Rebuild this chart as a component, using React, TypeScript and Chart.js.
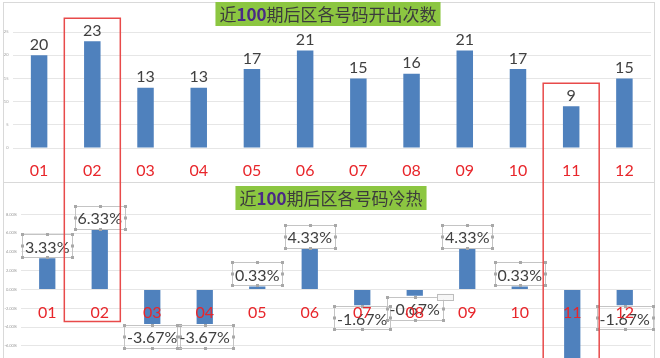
import React, { useEffect, useRef } from "react";
import { Chart, registerables } from "chart.js";
Chart.register(...registerables);

const categories = ["01", "02", "03", "04", "05", "06", "07", "08", "09", "10", "11", "12"];
const drawCounts = [20, 23, 13, 13, 17, 21, 15, 16, 21, 17, 9, 15];
const heatValues = [3.33, 6.33, -3.67, -3.67, 0.33, 4.33, -1.67, -0.67, 4.33, 0.33, -7.67, -1.67];
const countTickValues = [0, 5, 10, 15, 20, 25];
const heatTickValues = [-8, -6, -4, -2, 0, 2, 4, 6, 8];
const highlightedCategories = ["02", "11"];
const titleTop = ["近", "100", "期后区各号码开出次数"];
const titleBottom = ["近", "100", "期后区各号码冷热"];

const BAR = "#4f81bd";
const RED = "#e8262b";
const BOX_RED = "#e84a4a";
const LABEL = "#404040";
const GREEN = "#8cc641";
const PURPLE = "#4a2a85";
const GRID = "#e6e6e6";
const NUM_FONT = "Lato, 'Open Sans', sans-serif";
const CJK_FONT = "'Noto Sans CJK SC', sans-serif";

const W = 660;
const TOP_H = 182;
const BOT_H = 200;

function drawTitle(ctx: CanvasRenderingContext2D, parts: string[], cx: number, top: number, h: number) {
  ctx.save();
  const fonts = [`17px ${CJK_FONT}`, `bold 17px ${CJK_FONT}`, `17px ${CJK_FONT}`];
  const widths = parts.map((p, i) => {
    ctx.font = fonts[i];
    return ctx.measureText(p).width;
  });
  const total = widths.reduce((a, b) => a + b, 0);
  const padX = 4;
  const x0 = cx - total / 2;
  ctx.fillStyle = GREEN;
  ctx.fillRect(x0 - padX, top, total + 2 * padX, h);
  let x = x0;
  ctx.textBaseline = "middle";
  ctx.textAlign = "left";
  parts.forEach((p, i) => {
    ctx.font = fonts[i];
    ctx.fillStyle = i === 1 ? PURPLE : "#3c3c3c";
    ctx.fillText(p, x, top + h / 2 + 1);
    x += widths[i];
  });
  ctx.restore();
}

function drawCatLabels(chart: any, xScaleChart: any) {
  const ctx = chart.ctx;
  const y0 = chart.scales.y.getPixelForValue(0);
  ctx.save();
  ctx.font = `16px ${NUM_FONT}`;
  ctx.fillStyle = RED;
  ctx.textAlign = "center";
  ctx.textBaseline = "alphabetic";
  categories.forEach((c, i) => {
    const x = chart.scales.x.getPixelForValue(i);
    ctx.fillText(c, x, y0 + 28);
  });
  ctx.restore();
}

function handles(ctx: CanvasRenderingContext2D, x: number, y: number, w: number, h: number) {
  const pts = [
    [x, y], [x + w / 2, y], [x + w, y],
    [x, y + h / 2], [x + w, y + h / 2],
    [x, y + h], [x + w / 2, y + h], [x + w, y + h],
  ];
  ctx.fillStyle = "#a8a8a8";
  pts.forEach(([px, py]) => ctx.fillRect(px - 1.5, py - 1.5, 3, 3));
}

export default function App() {
  const topRef = useRef<HTMLCanvasElement>(null);
  const botRef = useRef<HTMLCanvasElement>(null);

  useEffect(() => {
    document.body.style.margin = "0";
    const topCanvas = topRef.current!;
    const botCanvas = botRef.current!;

    const topPlugin = {
      id: "topDeco",
      beforeDraw(chart: any) {
        const ctx = chart.ctx;
        ctx.save();
        ctx.fillStyle = "#fff";
        ctx.fillRect(0, 0, chart.width, chart.height);
        ctx.strokeStyle = "#d9d9d9";
        ctx.lineWidth = 1;
        ctx.strokeRect(3.5, 2.5, 651, chart.height);
        ctx.restore();
      },
      afterDatasetsDraw(chart: any) {
        const ctx = chart.ctx;
        const meta = chart.getDatasetMeta(0);
        ctx.save();
        ctx.font = `16px ${NUM_FONT}`;
        ctx.fillStyle = LABEL;
        ctx.textAlign = "center";
        ctx.textBaseline = "alphabetic";
        meta.data.forEach((bar: any, i: number) => {
          ctx.fillText(String(drawCounts[i]), bar.x, bar.y - 5.5);
        });
        ctx.restore();
        drawCatLabels(chart, chart);
        drawTitle(ctx, titleTop, 328, 2, 24);
        // highlight boxes
        ctx.save();
        ctx.strokeStyle = BOX_RED;
        ctx.lineWidth = 1.5;
        highlightedCategories.forEach((c) => {
          const i = categories.indexOf(c);
          const x = chart.scales.x.getPixelForValue(i);
          const yTop = chart.scales.y.getPixelForValue(drawCounts[i]) - 23;
          ctx.beginPath();
          ctx.moveTo(x - 28, chart.height + 5);
          ctx.lineTo(x - 28, yTop);
          ctx.lineTo(x + 28, yTop);
          ctx.lineTo(x + 28, chart.height + 5);
          ctx.stroke();
        });
        ctx.restore();
      },
    };

    const topChart = new Chart(topCanvas, {
      type: "bar",
      data: {
        labels: categories,
        datasets: [
          {
            data: drawCounts,
            backgroundColor: BAR,
            barPercentage: 0.31,
            categoryPercentage: 1,
          },
        ],
      },
      options: {
        animation: false,
        responsive: false,
        devicePixelRatio: 1,
        layout: { padding: { top: 32, bottom: 34, left: 0, right: 9 } },
        plugins: { legend: { display: false }, tooltip: { enabled: false } },
        scales: {
          x: { display: false },
          y: {
            min: countTickValues[0],
            max: countTickValues[countTickValues.length - 1],
            afterBuildTicks(scale: any) {
              scale.ticks = countTickValues.map((v) => ({ value: v }));
            },
            afterFit(scale: any) {
              scale.width = 12.5;
            },
            border: { display: false },
            grid: { color: GRID, drawTicks: false },
            ticks: { padding: 4, font: { size: 4, family: NUM_FONT }, color: "#9a9a9a" },
          },
        },
      },
      plugins: [topPlugin],
    } as any);

    const botPlugin = {
      id: "botDeco",
      beforeDraw(chart: any) {
        const ctx = chart.ctx;
        ctx.save();
        ctx.fillStyle = "#fff";
        ctx.fillRect(0, 0, chart.width, chart.height);
        ctx.strokeStyle = "#d9d9d9";
        ctx.lineWidth = 1;
        ctx.strokeRect(3.5, 0.5, 651, chart.height + 5);
        ctx.restore();
      },
      afterDatasetsDraw(chart: any) {
        const ctx = chart.ctx;
        const meta = chart.getDatasetMeta(0);
        ctx.save();
        ctx.font = `16px ${NUM_FONT}`;
        ctx.textAlign = "center";
        ctx.textBaseline = "alphabetic";
        meta.data.forEach((bar: any, i: number) => {
          const v = heatValues[i];
          const txt = v.toFixed(2) + "%";
          const tw = ctx.measureText(txt).width;
          const bw = tw + 6;
          const bh = 23;
          const by = v >= 0 ? bar.y - 1 - bh : bar.y + 1;
          const bx = bar.x - bw / 2;
          ctx.strokeStyle = "#c4c4c4";
          ctx.lineWidth = 1;
          ctx.strokeRect(Math.round(bx) + 0.5, Math.round(by) + 0.5, Math.round(bw), bh);
          handles(ctx, Math.round(bx) + 0.5, Math.round(by) + 0.5, Math.round(bw), bh);
          ctx.fillStyle = LABEL;
          ctx.fillText(txt, bar.x, by + bh - 4.5);
          if (categories[i] === "08") {
            ctx.fillStyle = "#f6f6f6";
            ctx.fillRect(bx + bw - 6, by - 3, 16, 6);
            ctx.strokeStyle = "#bdbdbd";
            ctx.strokeRect(Math.round(bx + bw - 6) + 0.5, Math.round(by - 3) + 0.5, 16, 6);
          }
        });
        ctx.restore();
        drawCatLabels(chart, chart);
        drawTitle(ctx, titleBottom, 331, 4, 24);
        const y0 = chart.scales.y.getPixelForValue(0);
        ctx.save();
        ctx.strokeStyle = BOX_RED;
        ctx.lineWidth = 1.5;
        highlightedCategories.forEach((c, k) => {
          const i = categories.indexOf(c);
          const x = topChart.scales.x.getPixelForValue(i);
          ctx.beginPath();
          if (k === 0) {
            ctx.moveTo(x - 28, -5);
            ctx.lineTo(x - 28, y0 + 32);
            ctx.lineTo(x + 28, y0 + 32);
            ctx.lineTo(x + 28, -5);
          } else {
            ctx.moveTo(x - 28, -5);
            ctx.lineTo(x - 28, chart.height + 5);
            ctx.moveTo(x + 28, -5);
            ctx.lineTo(x + 28, chart.height + 5);
          }
          ctx.stroke();
        });
        ctx.restore();
      },
    };

    const botChart = new Chart(botCanvas, {
      type: "bar",
      data: {
        labels: categories,
        datasets: [
          {
            data: heatValues,
            backgroundColor: BAR,
            barPercentage: 0.31,
            categoryPercentage: 1,
          },
        ],
      },
      options: {
        animation: false,
        responsive: false,
        devicePixelRatio: 1,
        layout: { padding: { top: 32.3, bottom: 17.3, left: 0, right: 9 } },
        plugins: { legend: { display: false }, tooltip: { enabled: false } },
        scales: {
          x: { display: false },
          y: {
            min: heatTickValues[0],
            max: heatTickValues[heatTickValues.length - 1],
            afterBuildTicks(scale: any) {
              scale.ticks = heatTickValues.map((v) => ({ value: v }));
            },
            afterFit(scale: any) {
              scale.width = 21;
            },
            border: { display: false },
            grid: { color: GRID, drawTicks: false },
            ticks: {
              padding: 4,
              font: { size: 4, family: NUM_FONT },
              color: "#9a9a9a",
              callback: (v: any) => Number(v).toFixed(2) + "%",
            },
          },
        },
      },
      plugins: [botPlugin],
    } as any);

    return () => {
      topChart.destroy();
      botChart.destroy();
    };
  }, []);

  return (
    <div style={{ position: "relative", width: W, height: 358, overflow: "hidden", background: "#fff" }}>
      <canvas ref={topRef} width={W} height={TOP_H} style={{ position: "absolute", left: 0, top: 0, width: W, height: TOP_H }} />
      <canvas ref={botRef} width={W} height={BOT_H} style={{ position: "absolute", left: 0, top: TOP_H, width: W, height: BOT_H }} />
    </div>
  );
}
